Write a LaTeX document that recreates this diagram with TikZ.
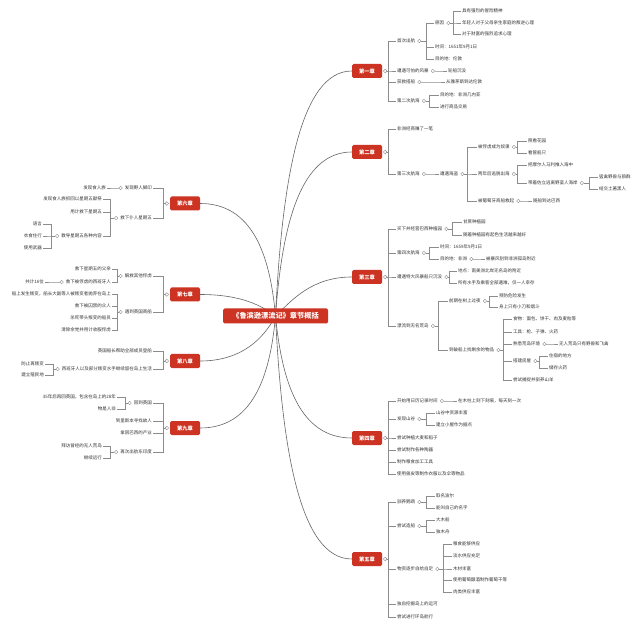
\documentclass[tikz,border=0pt]{standalone}
\usepackage{fontspec}
\newfontfamily\cjk{Noto Sans CJK SC}
\usetikzlibrary{calc,backgrounds}
\definecolor{chred}{HTML}{CC3322}
\definecolor{lngray}{HTML}{8C8C8C}
\definecolor{txt}{HTML}{333333}
\tikzset{
 lf/.style={font=\cjk\fontsize{4.5}{5}\selectfont, text=txt, inner sep=1pt, anchor=west},
 lfl/.style={lf, anchor=east},
 chap/.style={fill=chred, rounded corners=1.5pt, text=white, font=\cjk\bfseries\fontsize{5.3}{6}\selectfont, minimum width=30pt, minimum height=14pt, inner sep=0pt},
 ttl/.style={chap, minimum width=105pt, minimum height=15pt, font=\cjk\bfseries\fontsize{7.2}{8}\selectfont},
 ln/.style={draw=lngray, line width=0.5pt},
 dotc/.style={draw=lngray, fill=white, line width=0.4pt},
 crv/.style={draw=gray!80!black, line width=0.6pt},
}
\newcommand\RB[3]{%
  \coordinate (pc) at ([xshift=3pt]#1.east);
  \coordinate (bx) at (#2,0);
  \foreach \kid in {#3}{\draw[ln] ([xshift=1.8pt]pc) -- (pc -| bx) -- (bx |- \kid.west) -- (\kid.west);}
  \draw[dotc] (pc) circle (1.8pt);
}
\newcommand\LB[3]{%
  \coordinate (pc) at ([xshift=-3pt]#1.west);
  \coordinate (bx) at (#2,0);
  \foreach \kid in {#3}{\draw[ln] ([xshift=-1.8pt]pc) -- (pc -| bx) -- (bx |- \kid.east) -- (\kid.east);}
  \draw[dotc] (pc) circle (1.8pt);
}
\begin{document}
\begin{tikzpicture}[x=1pt,y=-1pt]
\useasboundingbox (0,0) rectangle (640,628);
\node[ttl] (T) at (275.5,316) {《鲁滨逊漂流记》章节概括};
% ---------- Chapter 1
\node[chap] (C1) at (367,71) {第一章};
\node[lf] (a1) at (396,41) {首次出航};
\node[lf] (a11) at (434,23) {原因};
\node[lf] (a111) at (461,11) {具有强烈的冒险精神};
\node[lf] (a112) at (461,23) {年轻人对于父母亲生家庭的叛逆心理};
\node[lf] (a113) at (461,34) {对于财富的强烈追求心理};
\node[lf] (a12) at (434,47) {时间：1651年9月1日};
\node[lf] (a13) at (434,59) {目的地：伦敦};
\node[lf] (a2) at (396,71) {遭遇可怕的风暴};
\node[lf] (a21) at (447,71) {轮船沉没};
\node[lf] (a3) at (396,82) {获救搭船};
\node[lf] (a31) at (445,82) {从雅茅斯到达伦敦};
\node[lf] (a4) at (396,101) {第二次航海};
\node[lf] (a41) at (439,95) {目的地：非洲几内亚};
\node[lf] (a42) at (439,107) {进行商品交易};
\RB{C1}{388}{a1,a2,a3,a4}
\RB{a1}{426}{a11,a12,a13}
\RB{a11}{453}{a111,a112,a113}
\RB{a2}{440}{a21}
\RB{a3}{438}{a31}
\RB{a4}{429}{a41,a42}
% ---------- Chapter 2
\node[chap] (C2) at (367,152) {第二章};
\node[lf] (b1) at (396,129) {非洲经商赚了一笔};
\node[lf] (b2) at (396,174) {第三次航海};
\node[lf] (b21) at (439,174) {遭遇海盗};
\node[lf] (b211) at (477,147) {被俘虏成为奴隶};
\node[lf] (b2111) at (527,141) {照看花园};
\node[lf] (b2112) at (527,153) {看管船只};
\node[lf] (b212) at (477,174) {两年后逃脱出海};
\node[lf] (b2121) at (527,165) {把摩尔人马利推入海中};
\node[lf] (b2122) at (527,183) {带着佐立逃离野蛮人海岸};
\node[lf] (b21221) at (598,177) {猛禽野兽与狼群};
\node[lf] (b21222) at (598,189) {结交土著黑人};
\node[lf] (b213) at (477,201) {被葡萄牙商船救起};
\node[lf] (b2131) at (532,201) {随船到达巴西};
\RB{C2}{388}{b1,b2}
\RB{b2}{432}{b21}
\RB{b21}{467}{b211,b212,b213}
\RB{b211}{517}{b2111,b2112}
\RB{b212}{517}{b2121,b2122}
\RB{b2122}{589}{b21221,b21222}
\RB{b213}{525}{b2131}
% ---------- Chapter 3
\node[chap] (C3) at (367,277) {第三章};
\node[lf] (c1) at (396,229) {买下并经营巴西种植园};
\node[lf] (c11) at (462,222) {甘蔗种植园};
\node[lf] (c12) at (462,235) {随着种植园有起色生活越来越好};
\node[lf] (c2) at (396,253) {第四次航海};
\node[lf] (c21) at (439,247) {时间：1659年9月1日};
\node[lf] (c22) at (439,259) {目的地：非洲};
\node[lf] (c221) at (485,259) {被暴风刮到非洲孤岛附近};
\node[lf] (c3) at (396,277) {遭遇特大风暴船只沉没};
\node[lf] (c31) at (457,271) {地点：南美洲北岸无名岛的附近};
\node[lf] (c32) at (457,283) {所有水手及乘客全部遇难，仅一人幸存};
\node[lf] (c4) at (396,326) {漂流到无名荒岛};
\node[lf] (c41) at (448,301) {前期在树上过夜};
\node[lf] (c411) at (498,296) {预防危险发生};
\node[lf] (c412) at (498,307) {身上只有小刀和烟斗};
\node[lf] (c42) at (448,350) {到破船上找剩余的物品};
\node[lf] (c421) at (512,319) {食物：面包、饼干、肉及麦粒等};
\node[lf] (c422) at (512,332) {工具：枪、子弹、火药};
\node[lf] (c423) at (512,344) {熟悉荒岛环境};
\node[lf] (c4231) at (558,344) {无人荒岛只有野兽和飞禽};
\node[lf] (c424) at (512,361) {搭建房屋};
\node[lf] (c4241) at (548,356) {住宿的地方};
\node[lf] (c4242) at (548,368) {储存火药};
\node[lf] (c425) at (512,380) {尝试捕捉并驯养山羊};
\RB{C3}{388}{c1,c2,c3,c4}
\RB{c1}{452}{c11,c12}
\RB{c2}{429}{c21,c22}
\RB{c22}{478}{c221}
\RB{c3}{449}{c31,c32}
\RB{c4}{438}{c41,c42}
\RB{c41}{489}{c411,c412}
\RB{c42}{503}{c421,c422,c423,c424,c425}
\RB{c423}{551}{c4231}
\RB{c424}{539}{c4241,c4242}
% ---------- Chapter 4
\node[chap] (C4) at (367,438) {第四章};
\node[lf] (d1) at (396,401) {开始用日历记录时间};
\node[lf] (d11) at (457,401) {在木柱上刻下刻痕，每天刻一次};
\node[lf] (d2) at (396,419) {发现山谷};
\node[lf] (d21) at (435,413) {山谷中资源丰富};
\node[lf] (d22) at (435,425) {建立小屋作为据点};
\node[lf] (d3) at (396,438) {尝试种植大麦和稻子};
\node[lf] (d4) at (396,450) {尝试制作各种陶器};
\node[lf] (d5) at (396,462) {制作粮食加工工具};
\node[lf] (d6) at (396,474) {使用兽皮等制作衣服以及伞等物品};
\RB{C4}{388}{d1,d2,d3,d4,d5,d6}
\RB{d1}{450}{d11}
\RB{d2}{426}{d21,d22}
% ---------- Chapter 5
\node[chap] (C5) at (367,559) {第五章};
\node[lf] (e1) at (396,502) {驯养鹦鹉};
\node[lf] (e11) at (435,496) {取名波尔};
\node[lf] (e12) at (435,508) {能叫自己的名字};
\node[lf] (e2) at (396,526) {尝试造船};
\node[lf] (e21) at (435,520) {大木船};
\node[lf] (e22) at (435,532) {独木舟};
\node[lf] (e3) at (396,569) {物资逐步自给自足};
\node[lf] (e31) at (452,544) {粮食能够供应};
\node[lf] (e32) at (452,556) {淡水供应充足};
\node[lf] (e33) at (452,569) {木材丰富};
\node[lf] (e34) at (452,580) {使用葡萄酿酒制作葡萄干等};
\node[lf] (e35) at (452,592) {肉类供应丰富};
\node[lf] (e4) at (396,604) {独自挖掘岛上的运河};
\node[lf] (e5) at (396,617) {尝试进行环岛航行};
\RB{C5}{388}{e1,e2,e3,e4,e5}
\RB{e1}{426}{e11,e12}
\RB{e2}{426}{e21,e22}
\RB{e3}{443}{e31,e32,e33,e34,e35}
% ---------- Chapter 6
\node[chap] (C6) at (185,203.5) {第六章};
\node[lfl] (f1) at (153,188) {发现野人脚印};
\node[lfl] (f11) at (107,188) {发现食人族};
\node[lfl] (f2) at (153,218) {救下仆人星期五};
\node[lfl] (f21) at (103,199) {发现食人族抓回以星期五献祭};
\node[lfl] (f22) at (103,212) {用计救下星期五};
\node[lfl] (f23) at (103,236) {教导星期五各种内容};
\node[lfl] (f231) at (43,224) {语言};
\node[lfl] (f232) at (43,236) {衣食住行};
\node[lfl] (f233) at (43,248) {使用武器};
\LB{C6}{163}{f1,f2}
\LB{f1}{114}{f11}
\LB{f2}{110}{f21,f22,f23}
\LB{f23}{51}{f231,f232,f233}
% ---------- Chapter 7
\node[chap] (C7) at (185,294.5) {第七章};
\node[lfl] (g1) at (153,276) {解救其他俘虏};
\node[lfl] (g11) at (112,269) {救下星期五的父亲};
\node[lfl] (g12) at (112,282) {救下被俘虏的西班牙人};
\node[lfl] (g121) at (45,282) {共计16位};
\node[lfl] (g2) at (153,312) {遇到英国商船};
\node[lfl] (g21) at (112,294) {船上发生叛变，船长大副等人被叛变者抛弃在岛上};
\node[lfl] (g22) at (112,306) {救下被囚禁的众人};
\node[lfl] (g23) at (112,318) {杀死带头叛变的船员};
\node[lfl] (g24) at (112,330) {清除余党并用计收服俘虏};
\LB{C7}{163}{g1,g2}
\LB{g1}{117}{g11,g12}
\LB{g12}{52}{g121}
\LB{g2}{117}{g21,g22,g23,g24}
% ---------- Chapter 8
\node[chap] (C8) at (185,361) {第八章};
\node[lfl] (h1) at (153,351) {英国船长帮助全部成员登船};
\node[lfl] (h2) at (153,369) {西班牙人以及部分叛变水手继续留在岛上生活};
\node[lfl] (h21) at (45,364) {防止再叛变};
\node[lfl] (h22) at (45,375) {建立殖民地};
\LB{C8}{163}{h1,h2}
\LB{h2}{53}{h21,h22}
% ---------- Chapter 9
\node[chap] (C9) at (185,428) {第九章};
\node[lfl] (k1) at (153,403) {回到英国};
\node[lfl] (k11) at (117,397) {35年后再回英国，包含在岛上的28年};
\node[lfl] (k12) at (117,409) {物是人非};
\node[lfl] (k2) at (153,421) {到里斯本寻找故人};
\node[lfl] (k3) at (153,433) {拿回巴西的产业};
\node[lfl] (k4) at (153,452) {再次出航东印度};
\node[lfl] (k41) at (103,446) {拜访曾经的无人荒岛};
\node[lfl] (k42) at (103,458) {继续远行};
\LB{C9}{163}{k1,k2,k3,k4}
\LB{k1}{125}{k11,k12}
\LB{k4}{110}{k41,k42}
% ---------- main curves
\begin{scope}[on background layer]
\fill[white] (0,0) rectangle (640,628);
\draw[crv] (T.center) .. controls (282,181) and (300,71) .. (C1.west);
\draw[crv] (T.center) .. controls (282,226) and (300,152) .. (C2.west);
\draw[crv] (T.center) .. controls (292,300) and (312,277) .. (C3.west);
\draw[crv] (T.center) .. controls (282,383) and (300,438) .. (C4.west);
\draw[crv] (T.center) .. controls (282,450) and (300,559) .. (C5.west);
\draw[crv] (T.center) .. controls (270,254) and (252,203.5) .. (C6.east);
\draw[crv] (T.center) .. controls (262,306) and (242,294.5) .. (C7.east);
\draw[crv] (T.center) .. controls (264,338) and (242,361) .. (C8.east);
\draw[crv] (T.center) .. controls (270,378) and (252,428) .. (C9.east);
\end{scope}
\end{tikzpicture}
\end{document}
